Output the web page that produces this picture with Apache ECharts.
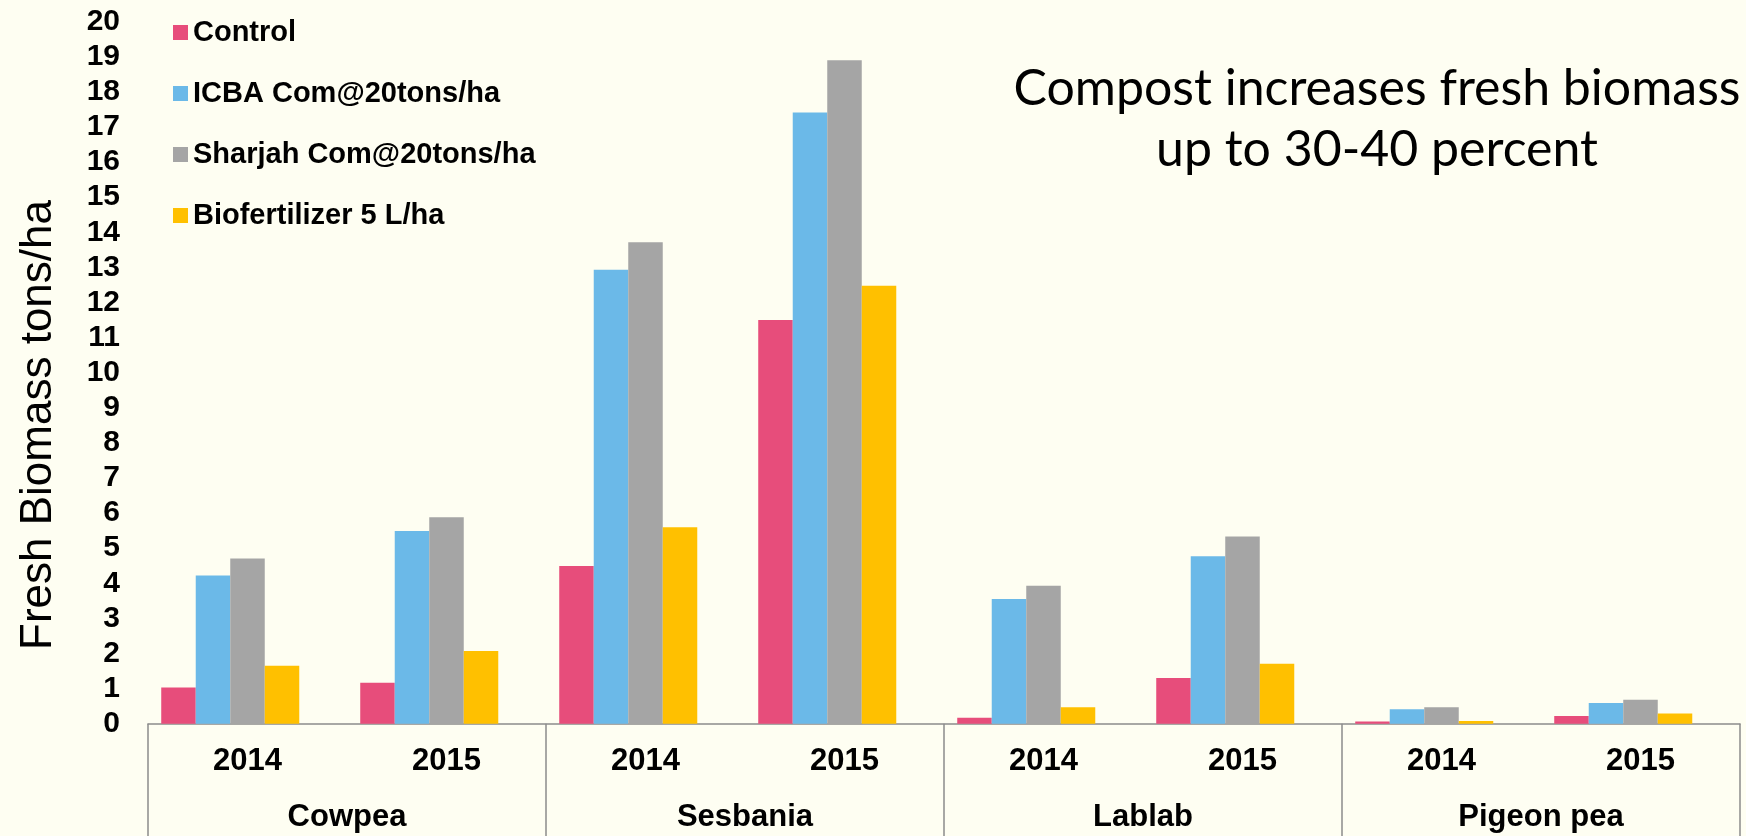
<!DOCTYPE html>
<html>
<head>
<meta charset="utf-8">
<script src="https://cdn.jsdelivr.net/npm/echarts@6/dist/echarts.min.js"></script>
<style>
  html, body { margin: 0; padding: 0; background: #fefef2; }
  #chart { width: 1746px; height: 836px; }
</style>
</head>
<body>
<div id="chart"></div>
<script>
// data
const years = ["2014", "2015", "2014", "2015", "2014", "2015", "2014", "2015"];
const crops = ["Cowpea", "Sesbania", "Lablab", "Pigeon pea"];
const seriesNames = ["Control", "ICBA Com@20tons/ha", "Sharjah Com@20tons/ha", "Biofertilizer 5 L/ha"];
const control = [1.03, 1.17, 4.49, 11.5, 0.17, 1.3, 0.06, 0.22];
const icba = [4.22, 5.49, 12.93, 17.41, 3.55, 4.77, 0.41, 0.59];
const sharjah = [4.71, 5.88, 13.72, 18.9, 3.93, 5.33, 0.47, 0.68];
const biofert = [1.65, 2.07, 5.6, 12.48, 0.47, 1.71, 0.08, 0.29];
// the original has an empty 5th slot in every group
const spacer = [null, null, null, null, null, null, null, null];
const colors = ["#e74d7b", "#6bb9e8", "#a5a5a5", "#ffc000"];

const axisGray = "#8c8c8c";
const labelFont = "'Liberation Sans', Arial, sans-serif";

const chart = echarts.init(document.getElementById("chart"));

const values = [control, icba, sharjah, biofert];
const series = values.map((d, i) => ({
  name: seriesNames[i],
  type: "bar",
  data: d,
  barGap: "0%",
  barCategoryGap: "13.3%",
  itemStyle: { color: colors[i] },
  animation: false
}));
series.push({
  name: "spacer",
  type: "bar",
  data: spacer,
  barGap: "0%",
  barCategoryGap: "13.3%",
  animation: false
});

const option = {
  backgroundColor: "#fefef2",
  textStyle: { fontFamily: labelFont },
  title: {
    text: "Compost increases fresh biomass\nup to 30-40 percent",
    left: 1372,
    top: 53,
    textAlign: "center",
    textStyle: {
      fontFamily: "Lato, 'Open Sans', sans-serif",
      fontWeight: "normal",
      fontSize: 50,
      lineHeight: 61,
      color: "#000"
    }
  },
  legend: {
    data: seriesNames,
    orient: "vertical",
    left: 168,
    top: 13,
    itemWidth: 15,
    itemHeight: 15,
    itemGap: 32,
    icon: "rect",
    textStyle: { fontSize: 29, fontWeight: "bold", color: "#000", lineHeight: 28, fontFamily: labelFont }
  },
  graphic: [{
    type: "text",
    x: 39,
    y: 425,
    rotation: Math.PI / 2,
    style: {
      text: "Fresh Biomass tons/ha",
      font: "44px 'Liberation Sans', Arial, sans-serif",
      fill: "#000",
      align: "center",
      verticalAlign: "middle"
    }
  }],
  grid: { left: 148, right: 6, top: 21.7, bottom: 112.3 },
  xAxis: [
    {
      type: "category",
      data: years,
      position: "bottom",
      axisLine: { lineStyle: { color: axisGray, width: 1.5 } },
      axisTick: { show: false },
      axisLabel: { fontSize: 31, fontWeight: "bold", color: "#000", margin: 22, interval: 0 }
    },
    {
      type: "category",
      data: crops,
      position: "bottom",
      axisLine: { show: false },
      axisTick: { show: true, length: 120, interval: 0, lineStyle: { color: axisGray, width: 1.5 } },
      axisLabel: { fontSize: 31, fontWeight: "bold", color: "#000", margin: 78, interval: 0 }
    }
  ],
  yAxis: {
    type: "value",
    min: 0,
    max: 20,
    interval: 1,
    axisLine: { show: false },
    axisTick: { show: false },
    splitLine: { show: false },
    axisLabel: { fontSize: 30, fontWeight: "bold", color: "#000", margin: 28 }
  },
  series: series
};

chart.setOption(option);
</script>
</body>
</html>
